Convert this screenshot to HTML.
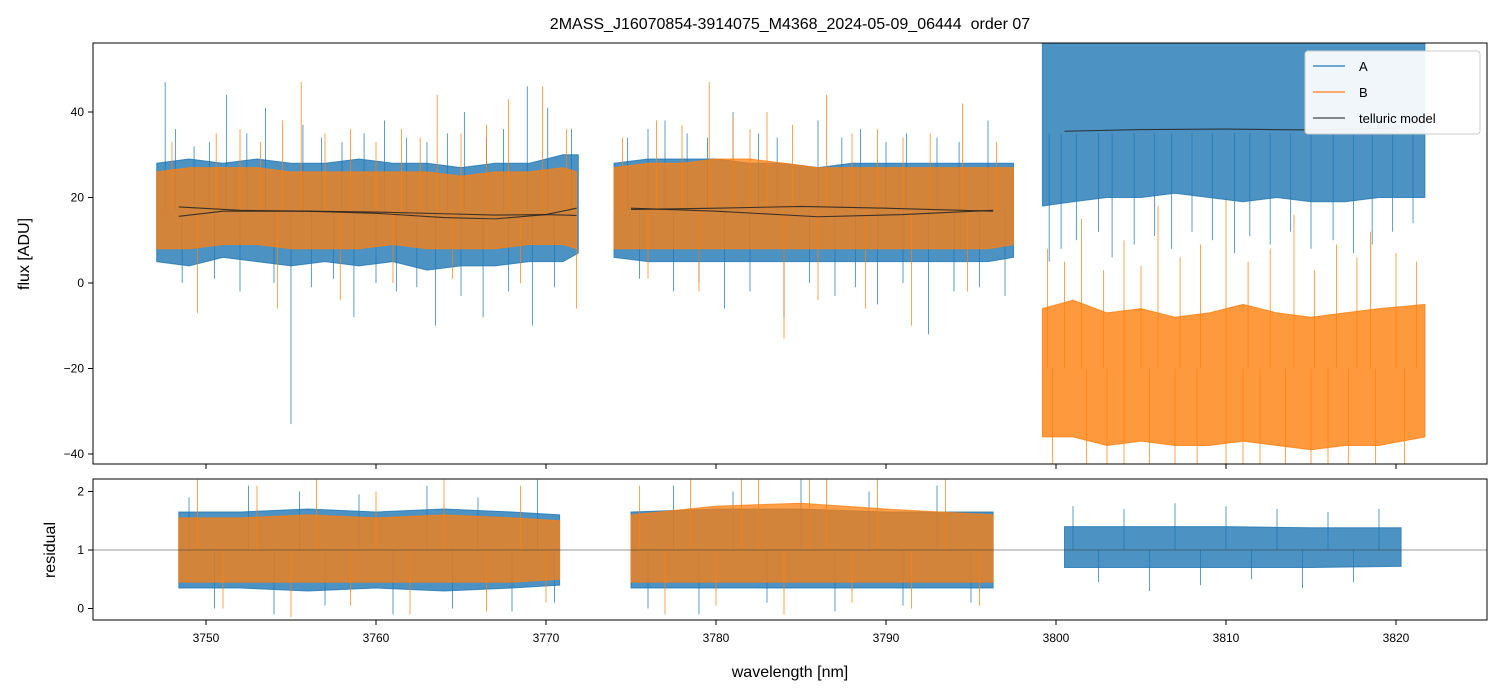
<!DOCTYPE html>
<html><head><meta charset="utf-8"><style>
html,body{margin:0;padding:0;background:#fff;width:1502px;height:696px;overflow:hidden}
text{font-family:"Liberation Sans","DejaVu Sans",sans-serif}
</style></head><body>
<svg id="chart" width="1502" height="696" xmlns="http://www.w3.org/2000/svg">
<defs>
<clipPath id="cTop"><rect x="93" y="43" width="1394" height="421"/></clipPath>
<clipPath id="cBot"><rect x="93" y="479" width="1394" height="141"/></clipPath>
</defs>
<text x="790" y="29" font-size="16" text-anchor="middle" style="white-space:pre">2MASS_J16070854-3914075_M4368_2024-05-09_06444  order 07</text>
<g id="gtop" clip-path="url(#cTop)"></g>
<g id="gbot" clip-path="url(#cBot)"></g>
<g id="axes"></g>
<text transform="translate(29,254) rotate(-90)" font-size="16" text-anchor="middle">flux [ADU]</text>
<text transform="translate(55,550) rotate(-90)" font-size="16" text-anchor="middle">residual</text>
<text x="790" y="677" font-size="16" text-anchor="middle">wavelength [nm]</text>
<g>
<rect x="1305" y="51" width="175" height="83" fill="#fff" fill-opacity="0.92" stroke="#ccc" rx="3"/>
<g><line x1="1313" y1="66" x2="1345" y2="66" stroke="#1f77b4" stroke-width="1.3"/><text x="1359" y="71" font-size="13">A</text></g>
<g><line x1="1313" y1="92" x2="1345" y2="92" stroke="#ff7f0e" stroke-width="1.3"/><text x="1359" y="97" font-size="13">B</text></g>
<g><line x1="1313" y1="118" x2="1345" y2="118" stroke="#444" stroke-width="1.3"/><text x="1359" y="123" font-size="13">telluric model</text></g>
</g>
</svg>
<script>
const NS="http://www.w3.org/2000/svg";
// ---- data ----
const xTicks=[3750,3760,3770,3780,3790,3800,3810,3820];
const yTicksTop=[40,20,0,-20,-40];
const yTicksBot=[0,1,2];
// flux band envelopes: [wavelength, low, high]
const fluxA1=[[3747.1,5,28],[3749,4,29],[3751,6,28],[3753,5,29],[3755,4,28],[3757,5,28],[3759,4,29],[3761,5,28],[3763,3,28],[3765,4,27],[3767,4,28],[3769,5,28],[3771,5,30],[3771.9,7,30]];
const fluxB1=[[3747.1,8,26],[3749,8,27],[3751,9,27],[3753,9,27],[3755,8,26],[3757,8,26],[3759,8,26],[3761,9,26],[3763,8,26],[3765,8,25],[3767,8,26],[3769,9,26],[3771,9,27],[3771.8,8,26]];
const fluxA2=[[3774,6,28],[3776,5,29],[3778,5,29],[3780,5,29],[3782,5,28],[3784,5,28],[3786,5,27],[3788,5,28],[3790,5,28],[3792,5,28],[3794,5,28],[3796,5,28],[3797.5,6,28]];
const fluxB2=[[3774,8,27],[3776,8,28],[3778,8,28],[3780,8,29],[3782,8,29],[3784,8,28],[3786,8,27],[3788,8,27],[3790,8,27],[3792,8,27],[3794,8,27],[3796,8,27],[3797.5,9,27]];
const fluxA3=[[3799.2,18,60],[3801,19,60],[3803,20,60],[3805,20,60],[3807,21,60],[3809,20,60],[3811,19,60],[3813,20,60],[3815,19,60],[3817,19,60],[3819,20,60],[3821.7,20,56]];
const fluxB3=[[3799.2,-36,-6],[3801,-36,-4],[3803,-38,-7],[3805,-37,-6],[3807,-38,-8],[3809,-38,-7],[3811,-37,-5],[3813,-38,-7],[3815,-39,-8],[3817,-38,-7],[3819,-38,-6],[3821.7,-36,-5]];
// spikes: [wavelength, value]
const spikesA=[[3747.6,47],[3748.2,36],[3749.3,32],[3750.2,33],[3751.2,44],[3752.4,35],[3753.5,41],[3755,-33],[3755.7,37],[3756.8,34],[3758,33],[3759.3,35],[3760.5,38],[3761.8,34],[3763,33],[3764.2,35],[3765.2,40],[3766.5,34],[3767.5,36],[3768.9,46],[3770.1,41],[3771.5,36],[3748.6,0],[3750.5,1],[3752,-2],[3754,0],[3756.2,-1],[3757.5,1],[3758.7,-8],[3760,0],[3761.2,-2],[3762.4,-1],[3763.5,-10],[3765,-3],[3766.3,-8],[3767.8,-2],[3769.2,-10],[3770.5,-1],
[3774.8,34],[3776,36],[3777,38],[3778.3,35],[3779.5,34],[3781,40],[3782.5,35],[3783.6,34],[3786,38],[3787.4,34],[3788.5,36],[3790,33],[3791.2,35],[3793,34],[3794.3,33],[3796,38],[3775.5,1],[3777.5,-2],[3779,0],[3780.5,-6],[3782,-2],[3784,-8],[3785.5,0],[3787,-3],[3788.2,-1],[3789.5,-5],[3791,0],[3792.5,-12],[3794,-2],[3795.5,-1],[3797,-3],
[3799.6,5],[3800.3,8],[3801.2,10],[3802.5,12],[3803.3,6],[3804.6,9],[3805.8,11],[3806.8,8],[3808,12],[3809.2,10],[3810.5,7],[3811.4,11],[3812.6,9],[3813.8,12],[3815,8],[3816.3,10],[3817.5,7],[3818.6,9],[3819.8,12],[3821,14]];
const spikesB=[[3748,33],[3749.5,-7],[3750.6,35],[3752,36],[3753.2,33],[3754.5,38],[3755.6,47],[3757,35],[3758.5,36],[3760,33],[3761.5,36],[3762.6,34],[3763.6,44],[3765,35],[3766.5,37],[3767.8,43],[3769.8,46],[3771.2,36],[3754.2,-6],[3757.9,-4],[3761,0],[3764.5,1],[3768.5,0],[3771.8,-6],
[3774.5,34],[3776.5,38],[3778,37],[3779.6,47],[3781,39],[3782,36],[3783,40],[3784.5,37],[3786.5,44],[3788,35],[3789.5,36],[3791,34],[3792.6,35],[3794.5,42],[3796.5,33],[3784,-13],[3776,1],[3779,-2],[3786,-4],[3788.8,-6],[3791.5,-10],[3794.8,-2],
[3799.5,8],[3800.5,5],[3801.5,15],[3802.8,3],[3804,10],[3805,4],[3806,18],[3807.3,6],[3808.5,9],[3810,20],[3811.3,5],[3812.6,8],[3814,16],[3815.2,3],[3816.5,9],[3817.7,6],[3818.5,12],[3820,7],[3821.2,5],
[3799.8,-43],[3801.8,-43],[3803,-43],[3804,-43],[3805.5,-43],[3807,-43],[3808.3,-43],[3810,-43],[3811,-43],[3812,-43],[3813.5,-43],[3815,-43],[3816,-43],[3817.2,-43],[3818.8,-43],[3820.5,-43]];
// telluric model curves: [wavelength, value]
const tell1=[[3748.4,17.8],[3752,17],[3756,16.8],[3760,16.6],[3764,16.2],[3767,15.9],[3770,16],[3771.8,15.8]];
const tell2=[[3748.4,15.6],[3751,16.8],[3756,16.8],[3760,16.3],[3764,15.3],[3767,15.0],[3770,16],[3771.8,17.5]];
const tell3=[[3775,17.2],[3780,17.5],[3785,17.9],[3790,17.5],[3796.3,16.8]];
const tell4=[[3775,17.5],[3780,16.8],[3786,15.5],[3791,16],[3796.3,17]];
const tell5=[[3800.5,35.5],[3805,35.9],[3810,36],[3815,35.8],[3820.5,36.3]];
// residual envelopes: [wavelength, low, high]
const resA1=[[3748.4,0.35,1.65],[3752,0.35,1.65],[3756,0.3,1.7],[3760,0.35,1.65],[3764,0.3,1.7],[3768,0.35,1.65],[3770.8,0.4,1.6]];
const resB1=[[3748.4,0.45,1.55],[3752,0.45,1.55],[3756,0.45,1.6],[3760,0.45,1.55],[3764,0.45,1.6],[3768,0.45,1.55],[3770.8,0.5,1.5]];
const resA2=[[3775,0.35,1.65],[3780,0.35,1.7],[3785,0.35,1.7],[3790,0.35,1.65],[3796.3,0.35,1.65]];
const resB2=[[3775,0.45,1.6],[3780,0.45,1.75],[3785,0.45,1.8],[3790,0.45,1.7],[3796.3,0.45,1.6]];
const resA3=[[3800.5,0.7,1.4],[3805,0.7,1.4],[3810,0.7,1.4],[3815,0.7,1.38],[3820.3,0.72,1.38]];
// residual spikes: [wavelength, value]
const resSpikesA=[[3749,1.9],[3750.5,0],[3752.5,2.1],[3754,-0.1],[3755.5,2.0],[3757,0.05],[3759,1.95],[3761,-0.1],[3763,2.1],[3764.5,0],[3766,1.9],[3768,-0.05],[3769.5,2.2],[3770.5,0.1],
[3776,0],[3777.5,2.1],[3779,-0.1],[3781,2.0],[3783,0.1],[3785,2.2],[3787,-0.05],[3789,2.0],[3791,0.05],[3793,2.1],[3795,0.1],
[3801,1.75],[3802.5,0.45],[3804,1.7],[3805.5,0.3],[3807,1.8],[3808.5,0.4],[3810,1.75],[3811.5,0.5],[3813,1.7],[3814.5,0.35],[3816,1.65],[3817.5,0.45],[3819,1.7]];
const resSpikesB=[[3749.5,2.2],[3751,0],[3753,2.1],[3755,-0.15],[3756.5,2.2],[3758.5,0.05],[3760,2.0],[3762,-0.1],[3764,2.2],[3766.5,-0.05],[3768.5,2.1],[3770,0.1],
[3775.5,2.1],[3777,-0.1],[3778.5,2.2],[3780,0.05],[3781.5,2.2],[3782.5,2.2],[3784,-0.1],[3785.5,2.2],[3786.5,2.2],[3788,0.1],[3789.5,2.2],[3791.5,0],[3793.5,2.2],[3795.5,0.05]];
// ---- scales ----
const X=w=>206+(w-3750)*17;
const YT=v=>283-4.275*v;
const YB=v=>550-58.5*(v-1);
function el(tag,attrs,parent){const e=document.createElementNS(NS,tag);for(const k in attrs)e.setAttribute(k,attrs[k]);parent.appendChild(e);return e;}
const gTop=document.getElementById('gtop'),gBot=document.getElementById('gbot'),gAxes=document.getElementById('axes');
function band(data,Y,color,op,parent,name){
  const up=data.map(d=>X(d[0])+','+Y(d[2])),lo=data.slice().reverse().map(d=>X(d[0])+','+Y(d[1]));
  const p=el('polygon',{points:up.concat(lo).join(' '),fill:color,'fill-opacity':op,stroke:color,'stroke-opacity':op,'stroke-width':1},parent);
  
  
}
function spikes(data,Y,mid,color,op,parent,name){
  data.forEach(d=>{const l=el('line',{x1:X(d[0]),x2:X(d[0]),y1:Y(mid),y2:Y(d[1]),stroke:color,'stroke-opacity':op,'stroke-width':0.9},parent);
  
  });
}
function curve(data,Y,parent,name){
  const p=el('polyline',{points:data.map(d=>X(d[0])+','+Y(d[1])).join(' '),fill:'none',stroke:'#222','stroke-opacity':0.85,'stroke-width':1.1},parent);
  
  
}
const cA='#1f77b4',cB='#ff7f0e';
function midOf(w,v){return w>3798.5?(v>-20?(v>15&&v<=20?-20:(v>20?35:-20)):-20):17;}
function spikesTop(data,color,name){
  data.forEach(d=>{const m=d[0]>3798.5?(d[1]>=0&&color===cA?35:-20):17;
  const l=el('line',{x1:X(d[0]),x2:X(d[0]),y1:YT(m),y2:YT(d[1]),stroke:color,'stroke-opacity':0.8,'stroke-width':0.9},gTop);
  
  });
}
band(fluxA1,YT,cA,0.8,gTop,'flux-a-seg1');band(fluxA2,YT,cA,0.8,gTop,'flux-a-seg2');
band(fluxB3,YT,cB,0.8,gTop,'flux-b-seg3');
spikesTop(spikesB.filter(d=>d[0]>3798.5),cB,'spike-b');
band(fluxA3,YT,cA,0.8,gTop,'flux-a-seg3');
spikesTop(spikesA,cA,'spike-a');
band(fluxB1,YT,cB,0.75,gTop,'flux-b-seg1');band(fluxB2,YT,cB,0.75,gTop,'flux-b-seg2');
spikesTop(spikesB.filter(d=>d[0]<=3798.5),cB,'spike-b');
[tell1,tell2,tell3,tell4,tell5].forEach((t,i)=>curve(t,YT,gTop,'telluric-model-'+(i+1)));
band(resA1,YB,cA,0.8,gBot,'residual-a-seg1');band(resA2,YB,cA,0.8,gBot,'residual-a-seg2');band(resA3,YB,cA,0.8,gBot,'residual-a-seg3');
spikes(resSpikesA,YB,1,cA,0.8,gBot,'residual-spike-a');
band(resB1,YB,cB,0.75,gBot,'residual-b-seg1');band(resB2,YB,cB,0.75,gBot,'residual-b-seg2');
spikes(resSpikesB,YB,1,cB,0.8,gBot,'residual-spike-b');
const rl=el('line',{x1:93,x2:1487,y1:YB(1),y2:YB(1),stroke:'#333','stroke-width':0.6},gBot);


[[43,464],[479,620]].forEach(([t,b],i)=>{const r=el('rect',{x:93,y:t,width:1394,height:b-t,fill:'none',stroke:'#000','stroke-width':1},gAxes);

});
xTicks.forEach(w=>{
  el('line',{x1:X(w),x2:X(w),y1:464,y2:469,stroke:'#000'},gAxes);
  el('line',{x1:X(w),x2:X(w),y1:620,y2:625,stroke:'#000'},gAxes);
  const t=el('text',{x:X(w),y:642,'font-size':12,'text-anchor':'middle'},gAxes);t.textContent=w;
  
  
});
yTicksTop.forEach(v=>{
  el('line',{x1:88,x2:93,y1:YT(v),y2:YT(v),stroke:'#000'},gAxes);
  const t=el('text',{x:84,y:YT(v)+4,'font-size':12,'text-anchor':'end'},gAxes);t.textContent=v<0?'\u2212'+(-v):v;
  
  
});
yTicksBot.forEach(v=>{
  el('line',{x1:88,x2:93,y1:YB(v),y2:YB(v),stroke:'#000'},gAxes);
  const t=el('text',{x:84,y:YB(v)+4,'font-size':12,'text-anchor':'end'},gAxes);t.textContent=v;
  
  
});
</script>
</body></html>
